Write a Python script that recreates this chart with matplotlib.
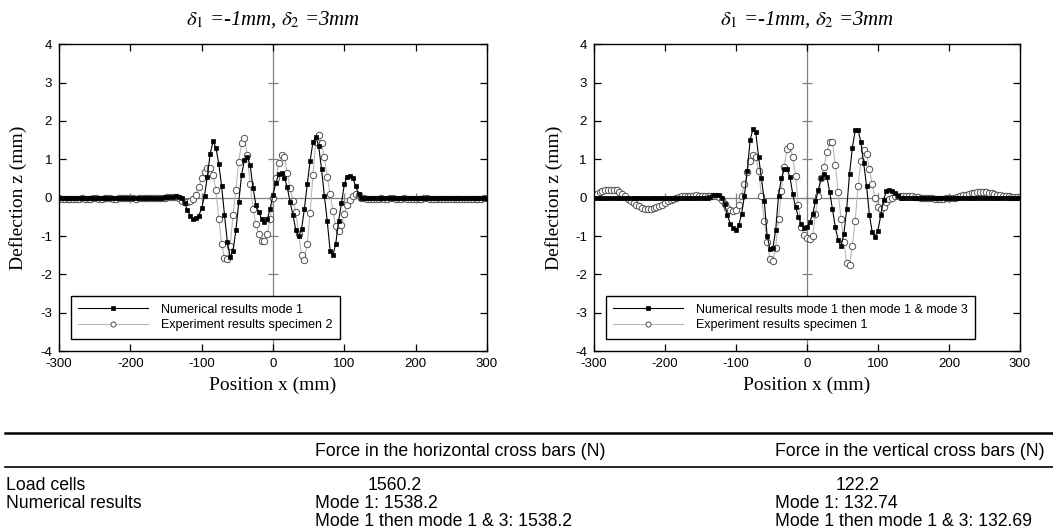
import numpy as np
import matplotlib.pyplot as plt
from matplotlib.lines import Line2D

plt.rcParams['mathtext.fontset'] = 'stix'
plt.rcParams['font.family'] = ['Liberation Sans', 'DejaVu Sans']
plt.rcParams['axes.unicode_minus'] = False

# positions along the plate (mm), one sample every 4 mm
pos = np.arange(-300, 301, 4)

# left panel: numerical mode 1 / experiment specimen 2
num_left = [
    0.00, 0.00, 0.00, 0.00, 0.00, 0.00, 0.00, 0.00, 0.00, 0.00,
    0.00, 0.00, 0.00, 0.00, 0.00, 0.00, 0.00, 0.00, 0.00, 0.00,
    0.00, 0.00, 0.00, 0.00, 0.00, 0.00, 0.00, 0.00, 0.00, 0.00,
    0.00, 0.00, 0.00, 0.00, 0.00, 0.00, 0.00, 0.01, 0.01, 0.02,
    0.02, 0.03, 0.02, -0.02, -0.15, -0.32, -0.47, -0.55, -0.52, -0.47,
    -0.28, 0.05, 0.55, 1.15, 1.47, 1.30, 0.88, 0.30, -0.45, -1.15,
    -1.55, -1.38, -0.85, -0.12, 0.60, 0.98, 1.06, 0.85, 0.25, -0.18,
    -0.38, -0.55, -0.64, -0.55, -0.30, 0.08, 0.38, 0.62, 0.63, 0.52,
    0.27, -0.12, -0.45, -0.85, -1.00, -0.82, -0.30, 0.35, 0.95, 1.45,
    1.58, 1.35, 0.75, 0.05, -0.60, -1.38, -1.50, -1.20, -0.60, -0.15,
    0.35, 0.55, 0.57, 0.50, 0.30, 0.10, 0.00, -0.02, -0.01, 0.00,
    0.00, 0.00, 0.00, 0.00, 0.00, 0.00, 0.00, 0.00, 0.00, 0.00,
    0.00, 0.00, 0.00, 0.00, 0.00, 0.00, 0.00, 0.00, 0.00, 0.00,
    0.00, 0.00, 0.00, 0.00, 0.00, 0.00, 0.00, 0.00, 0.00, 0.00,
    0.00, 0.00, 0.00, 0.00, 0.00, 0.00, 0.00, 0.00, 0.00, 0.00,
    0.00,
]
exp_left = [
    -0.02, -0.03, -0.03, -0.04, -0.04, -0.03, -0.03, -0.03, -0.02, -0.03,
    -0.03, -0.03, -0.02, -0.02, -0.03, -0.03, -0.02, -0.02, -0.02, -0.03,
    -0.03, -0.02, -0.02, -0.01, -0.02, -0.02, -0.02, -0.03, -0.02, -0.02,
    -0.02, -0.01, -0.01, -0.02, -0.02, -0.01, -0.01, 0.00, 0.01, 0.01,
    0.02, 0.02, -0.02, -0.08, -0.12, -0.12, -0.08, -0.03, 0.08, 0.28,
    0.50, 0.67, 0.78, 0.77, 0.60, 0.20, -0.55, -1.20, -1.58, -1.60,
    -1.25, -0.45, 0.20, 0.94, 1.42, 1.55, 1.10, 0.35, -0.30, -0.68,
    -0.95, -1.14, -1.13, -0.95, -0.56, 0.00, 0.50, 0.90, 1.10, 1.05,
    0.65, 0.25, -0.08, -0.38, -0.95, -1.50, -1.62, -1.20, -0.40, 0.60,
    1.45, 1.63, 1.42, 1.05, 0.55, 0.10, -0.35, -0.75, -0.86, -0.72,
    -0.42, -0.20, -0.05, 0.05, 0.10, 0.06, 0.00, -0.02, -0.03, -0.03,
    -0.03, -0.03, -0.03, -0.02, -0.03, -0.03, -0.02, -0.02, -0.03, -0.03,
    -0.03, -0.02, -0.03, -0.04, -0.04, -0.03, -0.03, -0.03, -0.02, -0.02,
    -0.03, -0.03, -0.03, -0.04, -0.04, -0.03, -0.03, -0.03, -0.04, -0.04,
    -0.04, -0.03, -0.03, -0.04, -0.04, -0.04, -0.03, -0.03, -0.03, -0.02,
    -0.02,
]

# right panel: numerical mode 1 then mode 1 & 3 / experiment specimen 1
num_right = [
    0.00, 0.00, 0.00, 0.00, 0.00, 0.00, 0.00, 0.00, 0.00, 0.00,
    0.00, 0.00, 0.00, 0.00, 0.00, 0.00, 0.00, 0.00, 0.00, 0.00,
    0.00, 0.00, 0.00, 0.00, 0.00, 0.00, 0.00, 0.00, 0.00, 0.00,
    0.00, 0.00, 0.00, 0.00, 0.00, 0.00, 0.00, 0.00, 0.00, 0.00,
    0.00, 0.02, 0.06, 0.07, 0.06, 0.00, -0.17, -0.45, -0.68, -0.80,
    -0.84, -0.72, -0.43, 0.05, 0.70, 1.50, 1.79, 1.70, 1.05, 0.50,
    -0.10, -1.00, -1.34, -1.32, -0.85, 0.05, 0.50, 0.75, 0.74, 0.55,
    0.10, -0.25, -0.50, -0.70, -0.80, -0.77, -0.64, -0.43, -0.10, 0.20,
    0.50, 0.62, 0.55, 0.15, -0.30, -0.77, -1.10, -1.27, -0.95, -0.30,
    0.62, 1.30, 1.75, 1.77, 1.44, 0.90, 0.30, -0.45, -0.90, -1.02,
    -0.86, -0.45, -0.05, 0.17, 0.20, 0.17, 0.12, 0.05, 0.00, 0.00,
    0.00, 0.00, 0.00, 0.00, 0.00, 0.00, 0.00, 0.00, 0.00, 0.00,
    0.00, 0.00, 0.00, 0.00, 0.00, 0.00, 0.00, 0.00, 0.00, 0.00,
    0.00, 0.00, 0.00, 0.00, 0.00, 0.00, 0.00, 0.00, 0.00, 0.00,
    0.00, 0.00, 0.00, 0.00, 0.00, 0.00, 0.00, 0.00, 0.00, 0.00,
    0.00,
]
exp_right = [
    0.05, 0.10, 0.14, 0.17, 0.19, 0.20, 0.21, 0.21, 0.19, 0.15,
    0.10, 0.03, -0.03, -0.08, -0.13, -0.18, -0.22, -0.26, -0.29, -0.30,
    -0.30, -0.28, -0.25, -0.22, -0.18, -0.14, -0.10, -0.06, -0.03, 0.00,
    0.02, 0.03, 0.04, 0.05, 0.05, 0.05, 0.06, 0.05, 0.04, 0.03,
    0.04, 0.05, 0.04, 0.03, 0.01, -0.06, -0.17, -0.27, -0.32, -0.35,
    -0.33, -0.20, 0.05, 0.36, 0.68, 0.95, 1.10, 1.05, 0.70, 0.05,
    -0.60, -1.15, -1.60, -1.65, -1.30, -0.55, 0.18, 0.80, 1.28, 1.35,
    1.05, 0.57, -0.20, -0.77, -0.97, -1.05, -1.08, -0.99, -0.43, 0.05,
    0.50, 0.80, 1.18, 1.45, 1.45, 0.85, 0.14, -0.55, -1.15, -1.70,
    -1.75, -1.25, -0.60, 0.30, 0.95, 1.25, 1.15, 0.75, 0.35, -0.02,
    -0.25, -0.30, -0.25, -0.12, -0.04, 0.00, 0.04, 0.05, 0.05, 0.04,
    0.04, 0.03, 0.03, 0.02, 0.01, 0.00, -0.01, -0.01, -0.02, -0.02,
    -0.03, -0.03, -0.03, -0.03, -0.02, -0.02, -0.01, 0.00, 0.02, 0.04,
    0.06, 0.08, 0.10, 0.12, 0.13, 0.14, 0.15, 0.15, 0.14, 0.13,
    0.12, 0.10, 0.08, 0.07, 0.05, 0.04, 0.03, 0.02, 0.02, 0.01,
    0.01,
]

title = r'$\delta_{\mathit{1}}$ =-1mm, $\delta_{\mathit{2}}$ =3mm'
labels_left = ['Numerical results mode 1', 'Experiment results specimen 2']
labels_right = ['Numerical results mode 1 then mode 1 & mode 3', 'Experiment results specimen 1']
xticks = [-300, -200, -100, 0, 100, 200, 300]
yticks = [-4, -3, -2, -1, 0, 1, 2, 3, 4]

# table under the plots
tab_header = ['Force in the horizontal cross bars (N)', 'Force in the vertical cross bars (N)']
tab_rows = ['Load cells', 'Numerical results', '']
tab_horiz = ['1560.2', 'Mode 1: 1538.2', 'Mode 1 then mode 1 & 3: 1538.2']
tab_vert = ['122.2', 'Mode 1: 132.74', 'Mode 1 then mode 1 & 3: 132.69']

fig = plt.figure(figsize=(10.53, 5.32), dpi=100)
ax1 = fig.add_axes([0.056, 0.340, 0.4065, 0.577])
ax2 = fig.add_axes([0.564, 0.340, 0.4046, 0.577])


def panel(ax, num, exp, labels, ylab_x):
    ax.axhline(0, color='#808080', lw=0.9, zorder=1)
    ax.axvline(0, color='#808080', lw=0.9, zorder=1)
    # little ticks on the zero axes
    ax.plot([0] * len(yticks), yticks, ls='none', marker='_', ms=7, mew=0.9, color='#808080', zorder=1)
    ax.plot(xticks[1:-1], [0] * (len(xticks) - 2), ls='none', marker='|', ms=7, mew=0.9, color='#808080', zorder=1)
    ax.plot(pos, exp, color='#b8b8b8', lw=0.8, marker='o', ms=4.6, mfc='white', mec='#505050',
            mew=0.7, label=labels[1], zorder=2)
    ax.plot(pos, num, color='black', lw=0.8, marker='s', ms=3.5, mfc='black', mec='black',
            mew=0.5, label=labels[0], zorder=3)
    handles, labs = ax.get_legend_handles_labels()
    leg = ax.legend(handles[::-1], labs[::-1], loc='lower left', bbox_to_anchor=(0.028, 0.04),
                    borderaxespad=0, fancybox=False, edgecolor='black', framealpha=1,
                    handlelength=5.6, fontsize=9, borderpad=0.6, labelspacing=0.3,
                    handletextpad=1.0, markerscale=0.8)
    leg.get_frame().set_linewidth(1.0)
    ax.set_xlim(-300, 300)
    ax.set_ylim(-4, 4)
    ax.set_xticks(xticks)
    ax.set_yticks(yticks)
    ax.tick_params(direction='in', length=5, width=0.9, top=True, right=True, labelsize=9.5)
    ax.tick_params(axis='x', pad=5)
    ax.tick_params(axis='y', pad=5)
    for s in ax.spines.values():
        s.set_linewidth(1.0)
    ax.set_title(title, family='Liberation Serif', style='italic', fontsize=15, pad=14)
    ax.set_xlabel('Position x (mm)', family='Liberation Serif', fontsize=14, labelpad=5)
    ax.set_ylabel('Deflection z (mm)', family='Liberation Serif', fontsize=14)
    ax.yaxis.set_label_coords(ylab_x, 0.5)


panel(ax1, num_left, exp_left, labels_left, -0.075)
panel(ax2, num_right, exp_right, labels_right, -0.073)

# table
tfont = dict(family=['Liberation Sans', 'DejaVu Sans'], fontsize=12.7, va='center')
fig.add_artist(Line2D([0.005, 1.0], [1 - 433 / 532] * 2, color='black', lw=1.8))
fig.add_artist(Line2D([0.005, 1.0], [1 - 467 / 532] * 2, color='black', lw=1.2))
fig.text(315 / 1053, 1 - 452 / 532, tab_header[0], **tfont)
fig.text(775 / 1053, 1 - 452 / 532, tab_header[1], **tfont)
row_y = [485, 503, 521]
for i in range(3):
    y = 1 - row_y[i] / 532
    fig.text(6 / 1053, y, tab_rows[i], **tfont)
    if i == 0:
        fig.text(395 / 1053, y, tab_horiz[i], ha='center', **tfont)
        fig.text(858 / 1053, y, tab_vert[i], ha='center', **tfont)
    else:
        fig.text(315 / 1053, y, tab_horiz[i], **tfont)
        fig.text(775 / 1053, y, tab_vert[i], **tfont)

fig.savefig('out.png', dpi=100)
